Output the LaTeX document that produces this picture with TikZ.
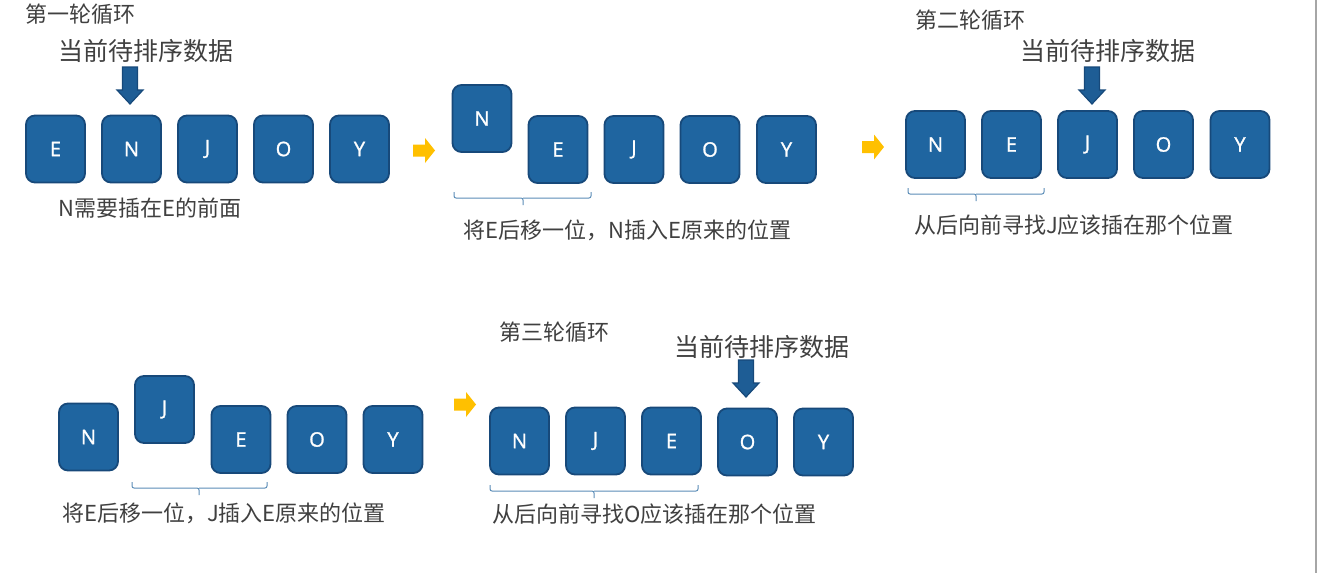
\documentclass[tikz,border=0pt]{standalone}
\usepackage{fontspec}
\setmainfont{Noto Sans CJK SC}
\newfontfamily\boxfont[FakeBold=1.2]{Open Sans}
\definecolor{boxfill}{HTML}{1F65A0}
\definecolor{boxline}{HTML}{17497A}
\definecolor{arrfill}{HTML}{1E5D95}
\definecolor{myorange}{HTML}{FFC000}
\definecolor{bracec}{HTML}{5B8DB8}
\definecolor{txt}{HTML}{404040}
\definecolor{edgegray}{HTML}{A6A6A6}
\tikzset{
  key/.style={draw=boxline, fill=boxfill, line width=1.8, rounded corners=9,
    minimum width=59, minimum height=67, inner sep=0, text=white,
    font=\boxfont\fontsize{20}{21}\selectfont},
  title/.style={anchor=west, inner sep=0, text=txt, font=\fontsize{22}{24}\selectfont},
  label/.style={anchor=west, inner sep=0, text=txt, font=\fontsize{25}{27}\selectfont},
  caption/.style={anchor=west, inner sep=0, text=txt, font=\fontsize{22}{24}\selectfont},
  darr/.style={fill=arrfill, draw=boxline, line width=1.2},
  oarr/.style={fill=myorange},
  bracel/.style={draw=bracec, line width=1, rounded corners=2},
  downarrow/.pic={\draw[darr] (-7.5,0) -- (7.5,0) -- (7.5,23) -- (13,23) -- (0,37) -- (-13,23) -- (-7.5,23) -- cycle;},
  rightarrow/.pic={\fill[oarr] (0,-6) -- (12,-6) -- (12,-12.5) -- (22,0) -- (12,12.5) -- (12,6) -- (0,6) -- cycle;}
}
\newcommand\mybrace[4]{%
  \draw[bracel] (#1,#3) |- (#4,#3+6) -- (#4,#3+13);
  \draw[bracel] (#4,#3+6) -| (#2,#3);}
\begin{document}
\begin{tikzpicture}[x=1pt,y=-1pt]
\useasboundingbox (0,0) rectangle (1317,573);
\fill[white] (0,0) rectangle (1317,573);
\draw[edgegray, line width=2] (1316,0) -- (1316,573);

% Round 1
\node[title] (t1) at (25,14) {第一轮循环};
\node[label] (l1) at (58,51) {当前待排序数据};
\pic at (130,67) {downarrow};
\node[key] (a1) at (55.5,149) {E};
\node[key] (a2) at (131.5,149) {N};
\node[key] (a3) at (207.5,149) {J};
\node[key] (a4) at (283.5,149) {O};
\node[key] (a5) at (359.5,149) {Y};
\node[caption] (c1) at (58,208) {N需要插在E的前面};

\pic at (413,150.5) {rightarrow};

% Round 1 shift
\node[key] (b1) at (482,118.5) {N};
\node[key] (b2) at (558,149.5) {E};
\node[key] (b3) at (634,149.5) {J};
\node[key] (b4) at (710,149.5) {O};
\node[key] (b5) at (786.5,149.5) {Y};
\mybrace{454}{591}{192}{523}
\node[caption] (c2) at (463,230) {将E后移一位，N插入E原来的位置};

\pic at (862,147) {rightarrow};

% Round 2
\node[title] (t2) at (915,20) {第二轮循环};
\node[label] (l2) at (1020,51) {当前待排序数据};
\pic at (1092,67) {downarrow};
\node[key] (d1) at (935.5,144.5) {N};
\node[key] (d2) at (1011.5,144.5) {E};
\node[key] (d3) at (1087.5,144.5) {J};
\node[key] (d4) at (1163.5,144.5) {O};
\node[key] (d5) at (1240,144.5) {Y};
\mybrace{908}{1044}{188}{976}
\node[caption] (c3) at (914,225) {从后向前寻找J应该插在那个位置};

% Round 2 shift
\node[key] (e1) at (88.5,437) {N};
\node[key] (e2) at (164.5,409.5) {J};
\node[key] (e3) at (241,439.5) {E};
\node[key] (e4) at (317,439.5) {O};
\node[key] (e5) at (393,439.5) {Y};
\mybrace{132}{267}{482}{199}
\node[caption] (c4) at (62,513) {将E后移一位，J插入E原来的位置};

\pic at (454,404.5) {rightarrow};

% Round 3
\node[title] (t3) at (499,332) {第三轮循环};
\node[label] (l3) at (674,347) {当前待排序数据};
\pic at (746,360) {downarrow};
\node[key] (f1) at (519.5,441) {N};
\node[key] (f2) at (595.5,441) {J};
\node[key] (f3) at (671.5,441) {E};
\node[key] (f4) at (747.5,442) {O};
\node[key] (f5) at (823.5,442) {Y};
\mybrace{490}{698}{485}{594}
\node[caption] (c5) at (492,514) {从后向前寻找O应该插在那个位置};
\end{tikzpicture}
\end{document}
